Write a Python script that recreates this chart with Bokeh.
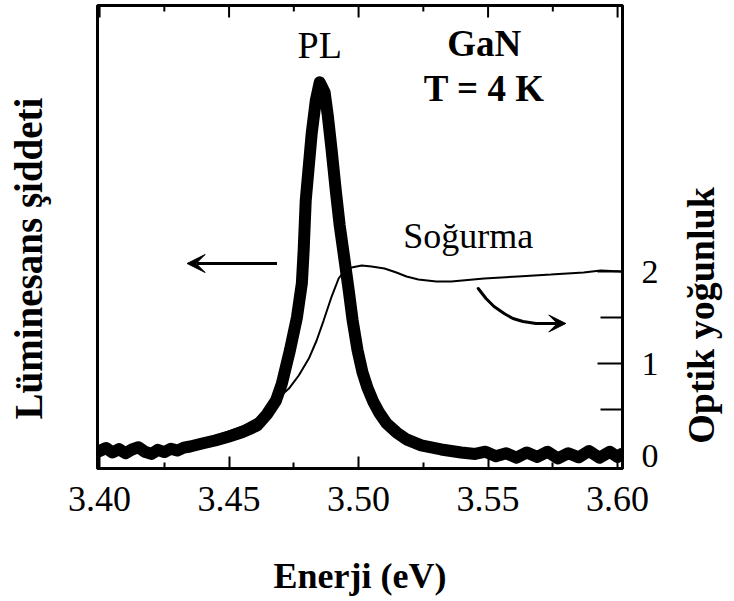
import math
from bokeh.plotting import figure
from bokeh.layouts import row
from bokeh.models import LinearAxis, Range1d, FixedTicker, PrintfTickFormatter, Arrow, VeeHead
from bokeh.core.properties import value
from bokeh.embed import file_html
from bokeh.resources import INLINE

# ---- data ----
energy_ticks = [3.40, 3.45, 3.50, 3.55, 3.60]
energy_minor = [3.425, 3.475, 3.525, 3.575]
od_ticks = [0, 1, 2]
od_minor = [0.5, 1.5]

pl_energy = [3.4000, 3.4025, 3.4050, 3.4075, 3.4100, 3.4125, 3.4150, 3.4175, 3.4200,
             3.4225, 3.4250, 3.4275, 3.4300, 3.4325, 3.4350, 3.4396, 3.4446, 3.4500,
             3.4550, 3.4608, 3.4646, 3.4681, 3.4704, 3.4735, 3.4762, 3.4781, 3.4788,
             3.4796, 3.4808, 3.4819, 3.4835, 3.4850, 3.4869, 3.4881, 3.4896, 3.4912,
             3.4927, 3.4946, 3.4962, 3.4977, 3.4996, 3.5015, 3.5035, 3.5058, 3.5081,
             3.5108, 3.5146, 3.5185, 3.5242, 3.5319, 3.5396, 3.5450, 3.5490, 3.5530,
             3.5570, 3.5610, 3.5650, 3.5690, 3.5730, 3.5770, 3.5810, 3.5850, 3.5890,
             3.5930, 3.5970, 3.6000, 3.6015]
pl_intensity = [0.012, 0.020, 0.008, 0.017, 0.006, 0.016, 0.022, 0.010, 0.004,
                0.015, 0.009, 0.018, 0.013, 0.021, 0.024, 0.032, 0.040, 0.051,
                0.062, 0.080, 0.110, 0.147, 0.193, 0.282, 0.370, 0.461, 0.550,
                0.684, 0.777, 0.863, 0.952, 1.000, 0.973, 0.912, 0.818, 0.710,
                0.617, 0.523, 0.442, 0.362, 0.282, 0.223, 0.180, 0.142, 0.113,
                0.086, 0.062, 0.043, 0.027, 0.016, 0.008, 0.004, 0.010, -0.002,
                0.006, -0.006, 0.008, -0.004, 0.010, -0.008, 0.006, -0.005, 0.012,
                -0.006, 0.010, -0.004, 0.004]

abs_energy = [3.4000, 3.4127, 3.4242, 3.4358, 3.4446, 3.4550, 3.4608, 3.4654, 3.4692,
              3.4731, 3.4769, 3.4808, 3.4838, 3.4865, 3.4896, 3.4923, 3.4946, 3.4973,
              3.5012, 3.5050, 3.5100, 3.5146, 3.5185, 3.5231, 3.5300, 3.5358, 3.5485,
              3.5615, 3.5742, 3.5869, 3.5935, 3.6015]
abs_od = [0.033, 0.054, 0.076, 0.120, 0.207, 0.315, 0.402, 0.543, 0.630,
          0.728, 0.870, 1.054, 1.250, 1.467, 1.728, 1.924, 2.011, 2.043,
          2.065, 2.054, 2.033, 1.989, 1.946, 1.913, 1.891, 1.891, 1.924,
          1.946, 1.967, 1.989, 2.011, 2.000]

# annotation positions (energy, optical density units)
left_arrow_x = [3.4685, 3.4338]
left_arrow_y = [2.087, 2.087]
curve_x = [3.5462, 3.5492, 3.5523, 3.5562, 3.5596, 3.5635, 3.5685, 3.5735]
curve_y = [1.815, 1.707, 1.620, 1.543, 1.489, 1.457, 1.435, 1.435]
curve_tip = [3.5800, 1.435]

pl_label = ["PL"]
pl_label_x = [3.4850]
pl_label_y = [4.457]
sample_text = ["GaN", "T = 4 K"]
sample_x = [3.5485, 3.5485]
sample_y = [4.478, 3.989]
abs_label = ["Soğurma"]
abs_label_x = [3.5423]
abs_label_y = [2.391]

# vertical axis titles: (text, strip-local x, strip-local y) in strip pixel units
left_title = ["Lüminesans şiddeti"]
left_title_x = [28]
left_title_y = [210]
right_title = ["Optik yoğunluk"]
right_title_x = [20]
right_title_y = [153]

FONT = "Liberation Serif"
PL_LO, PL_HI = -0.035, 1.206
OD_LO, OD_HI = -0.141, 4.891
H = 600
TOP, BOTTOM = 5, 132
FRAME_H = H - TOP - BOTTOM


def title_strip(width, texts, xs, ys, size):
    """Narrow panel carrying one vertical axis title that reads bottom to top."""
    f = figure(width=width, height=H, x_range=Range1d(0, width), y_range=Range1d(0, FRAME_H),
               output_backend="svg", toolbar_location=None,
               min_border_left=0, min_border_right=0,
               min_border_top=TOP, min_border_bottom=BOTTOM)
    f.xaxis.visible = False
    f.yaxis.visible = False
    f.xgrid.visible = False
    f.ygrid.visible = False
    f.outline_line_color = None
    f.background_fill_color = "white"
    f.border_fill_color = "white"
    f.text(xs, ys, text=texts, angle=math.pi / 2,
           text_font=value(FONT), text_font_size=size, text_font_style="bold",
           text_color="black", text_align="center", text_baseline="middle")
    return f


p0 = title_strip(54, left_title, left_title_x, left_title_y, "39px")

p = figure(width=626, height=H,
           x_range=Range1d(3.3992, 3.6019), y_range=Range1d(PL_LO, PL_HI),
           output_backend="svg", toolbar_location=None,
           min_border_left=43, min_border_right=58, min_border_top=TOP, min_border_bottom=BOTTOM)
p.extra_y_ranges = {"od": Range1d(OD_LO, OD_HI)}
p.xgrid.visible = False
p.ygrid.visible = False
p.background_fill_color = "white"
p.border_fill_color = "white"
p.outline_line_color = "black"
p.outline_line_width = 3

# bottom axis
xa = p.xaxis[0]
xa.ticker = FixedTicker(ticks=energy_ticks, minor_ticks=energy_minor)
xa.formatter = PrintfTickFormatter(format="%.2f")
xa.axis_line_width = 3
xa.major_tick_in = 12
xa.major_tick_out = 0
xa.minor_tick_in = 6
xa.minor_tick_out = 0
xa.major_tick_line_width = 2
xa.minor_tick_line_width = 2
xa.major_label_text_font = FONT
xa.major_label_text_font_size = "36px"
xa.major_label_text_color = "black"
xa.major_label_standoff = 18
xa.axis_label = "Enerji (eV)"
xa.axis_label_text_font = FONT
xa.axis_label_text_font_size = "36px"
xa.axis_label_text_font_style = "bold"
xa.axis_label_text_color = "black"
xa.axis_label_standoff = 42

# top ticks (drawn from the tick arrays, pointing inward)
span = PL_HI - PL_LO
p.segment(x0=energy_ticks, y0=[PL_HI] * len(energy_ticks),
          x1=energy_ticks, y1=[PL_HI - span * 12 / FRAME_H] * len(energy_ticks),
          line_color="black", line_width=2)
p.segment(x0=energy_minor, y0=[PL_HI] * len(energy_minor),
          x1=energy_minor, y1=[PL_HI - span * 6 / FRAME_H] * len(energy_minor),
          line_color="black", line_width=2)

# left axis (line only)
ya = p.yaxis[0]
ya.ticker = FixedTicker(ticks=[])
ya.axis_line_width = 3
ya.major_tick_in = 0
ya.major_tick_out = 0
ya.minor_tick_in = 0
ya.minor_tick_out = 0

# right axis
ra = LinearAxis(y_range_name="od", ticker=FixedTicker(ticks=od_ticks, minor_ticks=od_minor))
ra.axis_line_width = 3
ra.major_tick_in = 25
ra.major_tick_out = 0
ra.minor_tick_in = 22
ra.minor_tick_out = 0
ra.major_tick_line_width = 2
ra.minor_tick_line_width = 2
ra.major_label_text_font = FONT
ra.major_label_text_font_size = "34px"
ra.major_label_text_color = "black"
ra.major_label_standoff = 19
p.add_layout(ra, "right")

# data curves
p.line(pl_energy, pl_intensity, line_color="black", line_width=12, line_join="round", line_cap="round")
p.line(abs_energy, abs_od, y_range_name="od", line_color="black", line_width=2)

# annotations
p.add_layout(Arrow(end=VeeHead(size=18, fill_color="black", line_color="black"),
                   x_start=left_arrow_x[0], y_start=left_arrow_y[0],
                   x_end=left_arrow_x[1], y_end=left_arrow_y[1],
                   line_width=3, y_range_name="od"))
p.line(curve_x, curve_y, y_range_name="od", line_color="black", line_width=3, line_cap="round")
p.add_layout(Arrow(end=VeeHead(size=17, fill_color="black", line_color="black"),
                   x_start=curve_x[-1], y_start=curve_y[-1],
                   x_end=curve_tip[0], y_end=curve_tip[1],
                   line_width=3, y_range_name="od"))

p.text(pl_label_x, pl_label_y, text=pl_label, y_range_name="od",
       text_font=value(FONT), text_font_size="38px", text_align="center", text_baseline="middle")
p.text(sample_x, sample_y, text=sample_text, y_range_name="od",
       text_font=value(FONT), text_font_size="37px", text_font_style="bold",
       text_align="center", text_baseline="middle")
p.text(abs_label_x, abs_label_y, text=abs_label, y_range_name="od",
       text_font=value(FONT), text_font_size="36px", text_align="center", text_baseline="middle")

p2 = title_strip(50, right_title, right_title_x, right_title_y, "38px")

layout = row(p0, p, p2)
open("out.html", "w").write(file_html(layout, INLINE))
